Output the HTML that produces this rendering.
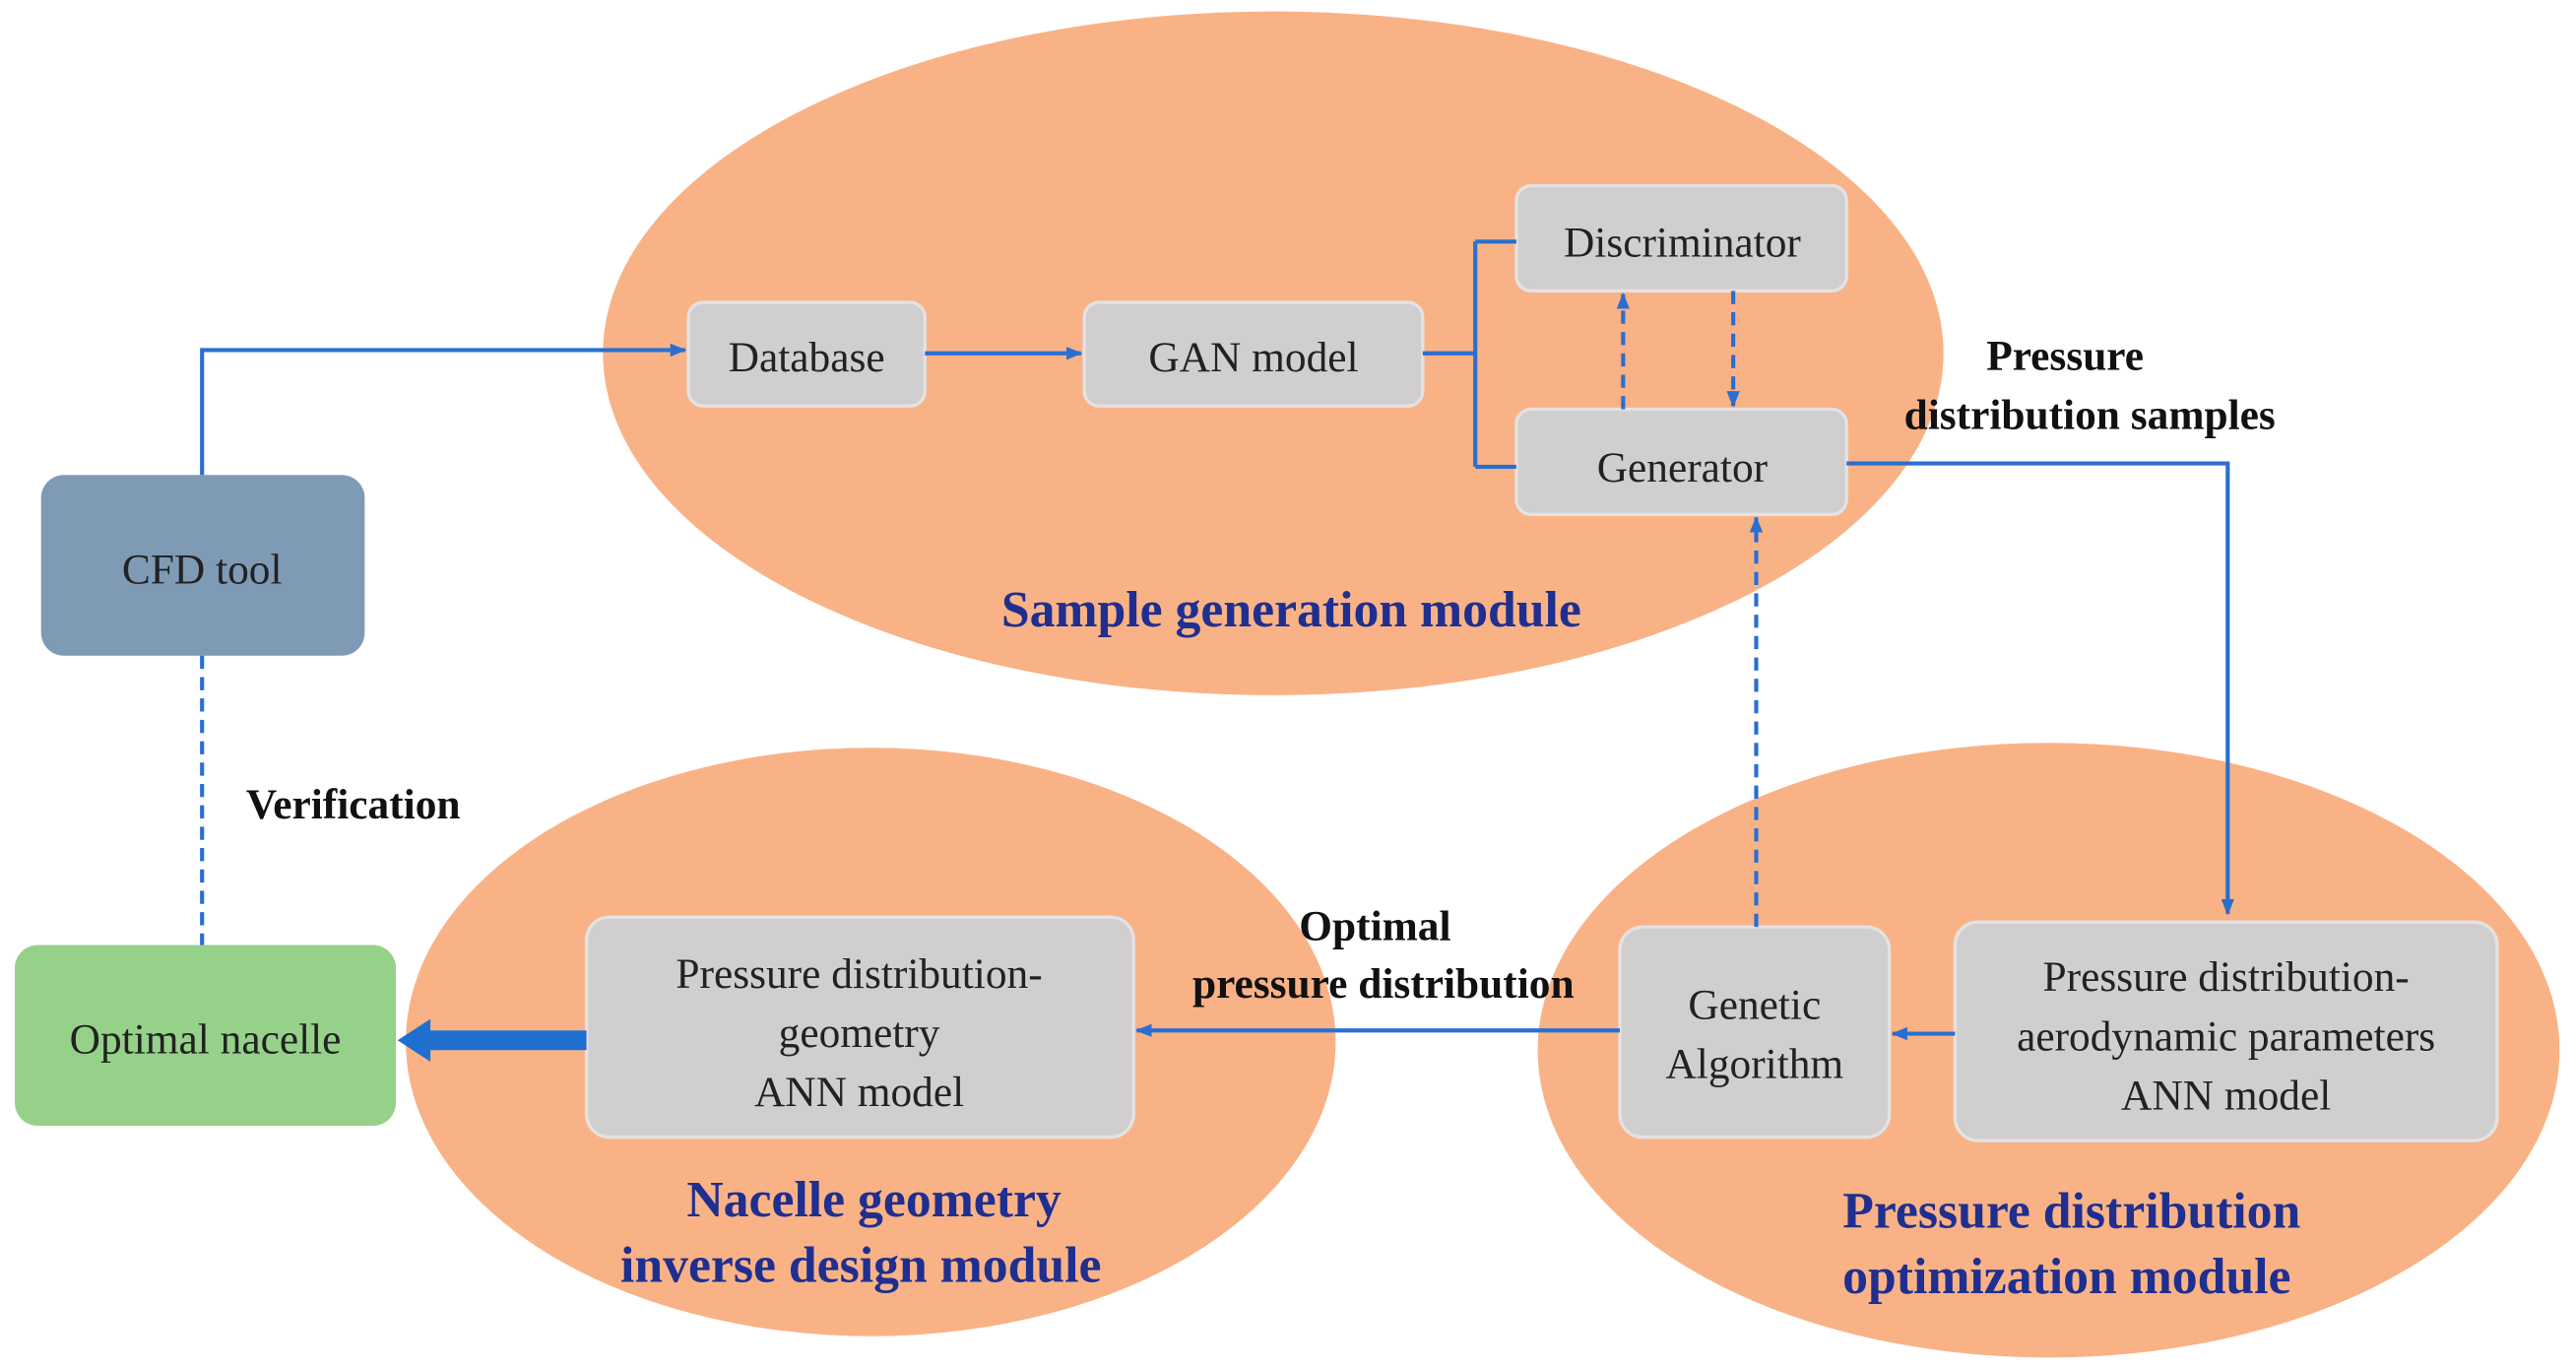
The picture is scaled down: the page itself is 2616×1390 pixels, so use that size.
<!DOCTYPE html>
<html><head><meta charset="utf-8"><style>
html,body{margin:0;padding:0;background:#fff;}
svg{display:block;}
svg text{font-family:"Liberation Serif","Times New Roman","DejaVu Serif",serif;}
</style></head><body>
<svg width="2616" height="1390" viewBox="0 0 1568 833" preserveAspectRatio="none" xmlns="http://www.w3.org/2000/svg" font-family="Liberation Serif, DejaVu Serif, serif">
<defs>
<marker id="a" markerWidth="10" markerHeight="10" refX="9" refY="5" orient="auto" markerUnits="userSpaceOnUse"><path d="M0,1 L10,5 L0,9 z" fill="#2a6fd0"/></marker>
</defs>
<ellipse cx="775" cy="215" rx="408" ry="208" fill="#f9b286"/>
<ellipse cx="530" cy="634" rx="283" ry="179" fill="#f9b286"/>
<ellipse cx="1247" cy="639" rx="311" ry="187" fill="#f9b286"/>
<g fill="#d0cece" stroke="#e4e2e2" stroke-width="2">
<rect x="419" y="184" width="144" height="63" rx="9"/>
<rect x="660" y="184" width="206" height="63" rx="9"/>
<rect x="923" y="113" width="201" height="64" rx="9"/>
<rect x="923" y="249" width="201" height="64" rx="9"/>
<rect x="357" y="558" width="333" height="134" rx="14"/>
<rect x="986" y="564" width="164" height="128" rx="14"/>
<rect x="1190" y="561" width="330" height="133" rx="14"/>
</g>
<rect x="25" y="289" width="197" height="110" rx="14" fill="#7f9ab5"/>
<rect x="9" y="575" width="232" height="110" rx="14" fill="#96d18a"/>
<g stroke="#2a6fd0" stroke-width="2.5" fill="none">
<path d="M123,289 V213 H417" marker-end="url(#a)"/>
<path d="M563,215 H658" marker-end="url(#a)"/>
<path d="M866,215 H898 M898,147 V284 M898,147 H923 M898,284 H923"/>
<path d="M1124,282 H1356 V556" marker-end="url(#a)"/>
<path d="M1190,629 H1152" marker-end="url(#a)"/>
<path d="M986,627 H692" marker-end="url(#a)"/>
<g stroke-dasharray="8,5">
<path d="M988,249 V179" marker-end="url(#a)"/>
<path d="M1055,177 V247" marker-end="url(#a)"/>
<path d="M1069,564 V315" marker-end="url(#a)"/>
<path d="M123,399 V575"/>
</g>
</g>
<path d="M357,627 H262 V620 L242,633 L262,646 V639 H357 z" fill="#1f6fd0"/>
<g font-size="26" fill="#222" text-anchor="middle" font-family="Liberation Serif, serif">
<text x="491" y="226">Database</text>
<text x="763" y="226">GAN model</text>
<text x="1024" y="156">Discriminator</text>
<text x="1024" y="293">Generator</text>
<text x="123" y="355">CFD tool</text>
<text x="125" y="641">Optimal nacelle</text>
<text x="523" y="601">Pressure distribution-</text>
<text x="523" y="637">geometry</text>
<text x="523" y="673">ANN model</text>
<text x="1068" y="620">Genetic</text>
<text x="1068" y="656">Algorithm</text>
<text x="1355" y="603">Pressure distribution-</text>
<text x="1355" y="639">aerodynamic parameters</text>
<text x="1355" y="675">ANN model</text>
</g>
<g font-size="26" font-weight="bold" fill="#111" text-anchor="middle" font-family="Liberation Serif, serif">
<text x="1257" y="225">Pressure</text>
<text x="1272" y="261">distribution samples</text>
<text x="215" y="498">Verification</text>
<text x="837" y="572">Optimal</text>
<text x="842" y="607">pressure distribution</text>
</g>
<g font-size="31" font-weight="bold" fill="#1f2f8f" text-anchor="middle" font-family="Liberation Serif, serif">
<text x="786" y="381">Sample generation module</text>
<text x="532" y="740">Nacelle geometry</text>
<text x="524" y="780">inverse design module</text>
<text x="1261" y="747">Pressure distribution</text>
<text x="1258" y="787">optimization module</text>
</g>
</svg>
</body></html>
